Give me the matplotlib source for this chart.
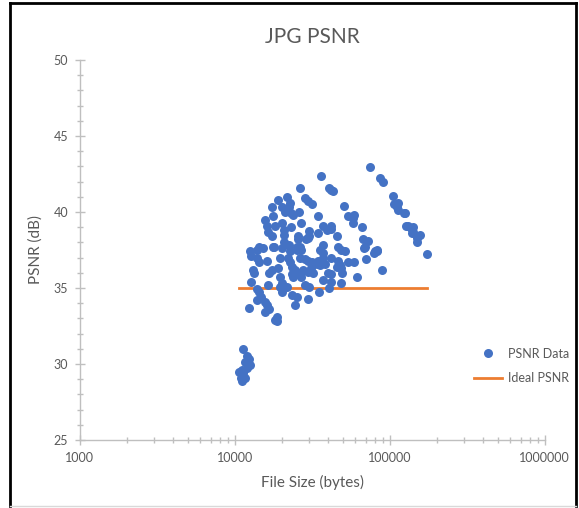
import numpy as np
import matplotlib.pyplot as plt
from matplotlib.lines import Line2D
from matplotlib.ticker import LogLocator, MultipleLocator, FixedLocator

plt.rcParams['font.family'] = ['Lato', 'DejaVu Sans']

# measured jpg files: size in bytes and psnr in dB
file_size = [
    74000, 35900, 87000, 90000, 26500, 40600, 42000, 43000, 105000, 21600,
    19000, 28300, 29600, 31400, 22600, 20100, 21000, 22300, 23000, 25800,
    23600, 17300, 50500, 107000, 113000, 112000, 125000, 17600, 15600, 34200,
    53600, 57500, 59000, 57500, 26900, 16000, 18200, 20100, 20700, 23000,
    36800, 42000, 39300, 42000, 66000, 128000, 138000, 141000, 16300, 17300,
    17900, 30000, 34200, 25500, 28900, 29600, 30300, 20800, 20800, 45400,
    67000, 72000, 69000, 68000, 14400, 13900, 12600, 12700, 36800, 35400,
    36800, 25500, 25100, 26300, 25100, 26900, 22300, 22600, 20100, 17600,
    15100, 46000, 48300, 51400, 82000, 78800, 16000, 14400, 13900, 19500,
    22000, 22600, 26300, 28300, 29600, 31400, 34200, 36800, 38000, 42000,
    46500, 47700, 45400, 53600, 59000, 70000, 13100, 13300, 16600, 17300,
    19000, 23300, 24300, 25100, 23600, 27500, 29600, 30900, 32000, 33700,
    35300, 39800, 42000, 48300, 49000, 88800, 61000, 12700, 16300, 19500,
    20100, 21600, 23300, 26300, 26900, 28300, 30300, 36800, 42000, 48300,
    13900, 14400, 13900, 14800, 20100, 19500, 23300, 25100, 29600, 34800,
    40600, 24300, 15600, 16000, 16600, 15600, 12300, 18600, 18600, 18200,
    130000, 136000, 140000, 138000, 156000, 149000, 149000, 173000, 80000, 82000,
    113000, 124000, 11300, 11900, 12300, 11600, 12500, 11900, 11100, 10700,
    11300, 10900, 11600, 11100,
]
psnr = [
    42.96, 42.37, 42.2, 42.0, 41.6, 41.6, 41.45, 41.4, 41.05, 41.0,
    40.8, 40.9, 40.7, 40.5, 40.6, 40.3, 40.0, 40.3, 39.9, 40.0,
    39.8, 40.3, 40.4, 40.5, 40.6, 40.3, 39.9, 39.7, 39.5, 39.7,
    39.7, 39.6, 39.8, 39.3, 39.3, 39.1, 39.1, 39.3, 38.8, 39.0,
    39.1, 39.1, 38.8, 38.9, 39.0, 39.1, 38.9, 38.7, 38.7, 38.4,
    37.7, 38.75, 38.6, 38.4, 38.2, 38.3, 38.4, 38.5, 38.0, 38.4,
    38.2, 38.1, 37.7, 37.6, 37.7, 37.5, 37.4, 37.1, 37.8, 37.5,
    37.3, 38.2, 37.7, 37.7, 37.5, 37.5, 37.8, 37.4, 37.6, 37.7,
    37.6, 37.7, 37.5, 37.4, 37.5, 37.3, 36.8, 36.7, 37.0, 37.0,
    37.0, 36.7, 37.0, 36.9, 36.8, 36.7, 36.8, 37.0, 36.6, 37.0,
    36.8, 36.5, 36.4, 36.7, 36.7, 36.9, 36.2, 36.0, 36.0, 36.2,
    36.3, 36.4, 36.2, 35.9, 35.7, 36.2, 36.05, 36.3, 36.0, 36.6,
    36.5, 36.0, 35.9, 36.3, 36.0, 36.2, 35.7, 35.4, 35.2, 35.7,
    35.3, 35.05, 35.9, 36.0, 35.7, 35.2, 35.05, 35.5, 35.4, 35.3,
    34.9, 34.7, 34.2, 34.4, 34.7, 35.05, 34.55, 34.4, 34.3, 34.7,
    35.0, 33.9, 34.1, 33.9, 33.6, 33.4, 33.7, 33.1, 32.8, 32.9,
    39.1, 38.95, 39.0, 38.6, 38.5, 38.3, 38.0, 37.2, 37.4, 37.4,
    40.1, 39.9, 31.0, 30.5, 30.3, 30.1, 29.9, 29.7, 29.6, 29.5,
    29.4, 29.1, 29.1, 28.9,
]
ideal_psnr = 35

grey = '#595959'
axis_grey = '#BFBFBF'

fig = plt.figure(figsize=(5.79, 5.08), dpi=100)
ax = fig.add_axes([0.138, 0.134, 0.803, 0.748])

ax.scatter(file_size, psnr, s=42, color='#4472C4', linewidths=0, zorder=3)
ax.plot([min(file_size), max(file_size)], [ideal_psnr, ideal_psnr],
        color='#ED7D31', lw=2.0, zorder=2)

ax.set_xscale('log')
ax.set_xlim(1000, 1000000)
ax.set_ylim(25, 50)
ax.xaxis.set_major_locator(FixedLocator([1000, 10000, 100000, 1000000]))
ax.xaxis.set_minor_locator(LogLocator(base=10, subs=np.arange(2, 10)))
ax.set_xticklabels(['1000', '10000', '100000', '1000000'])
ax.yaxis.set_major_locator(MultipleLocator(5))
ax.yaxis.set_minor_locator(MultipleLocator(1))

for side in ['top', 'right']:
    ax.spines[side].set_visible(False)
for side in ['left', 'bottom']:
    ax.spines[side].set_color(axis_grey)
    ax.spines[side].set_linewidth(1.0)

ax.tick_params(which='major', direction='inout', length=7, width=1,
               color=axis_grey, labelcolor=grey, labelsize=9, pad=5)
ax.tick_params(which='minor', direction='inout', length=5, width=1,
               color=axis_grey)

ax.set_title('JPG PSNR', fontsize=15, color=grey, pad=12)
ax.set_xlabel('File Size (bytes)', fontsize=11, color=grey, labelpad=8)
ax.set_ylabel('PSNR (dB)', fontsize=11, color=grey, labelpad=8)

handles = [
    Line2D([], [], ls='none', marker='o', ms=6.5, mfc='#4472C4', mec='none',
           label='PSNR Data'),
    Line2D([], [], color='#ED7D31', lw=2.0, label='Ideal PSNR'),
]
leg = fig.legend(handles=handles, loc='center left', frameon=False,
                 bbox_to_anchor=(0.80, 0.28), fontsize=9, labelcolor=grey,
                 handlelength=2.2, handletextpad=0.5, labelspacing=1.0)

# outer border of the chart
fig.add_artist(Line2D([0.018, 0.018], [0.004, 0.994], color='black', lw=2))
fig.add_artist(Line2D([0.018, 0.995], [0.994, 0.994], color='black', lw=2))
fig.add_artist(Line2D([0.995, 0.995], [0.004, 0.994], color='black', lw=2))
fig.add_artist(Line2D([0.018, 0.995], [0.004, 0.004], color='#D9D9D9', lw=1))

fig.savefig('out.png', dpi=100)
